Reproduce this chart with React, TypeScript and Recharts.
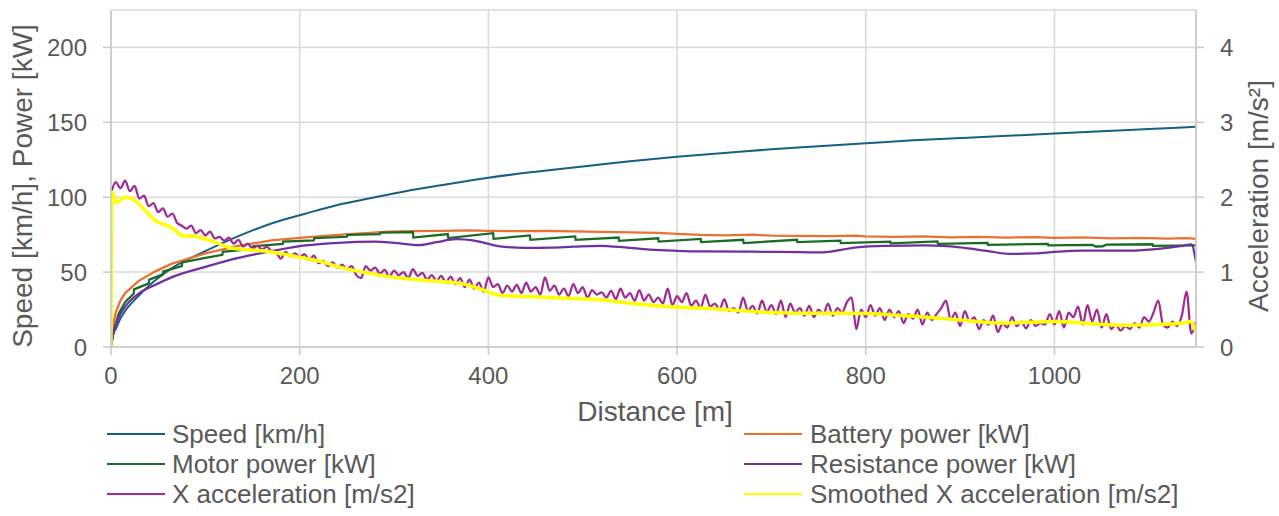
import { LineChart, Line, XAxis, YAxis, CartesianGrid } from 'recharts';

const FONT = '"Liberation Sans", Arial, sans-serif';
const TEXT = '#595959';
const GRID = '#D9D9D9';

// Speed [km/h] (left axis)
const speedDist = [0, 2, 5, 10, 15, 29, 46, 64, 100, 135, 170, 206, 241, 276, 312, 360, 400, 450, 500, 550, 600, 650, 700, 750, 800, 850, 900, 950, 1000, 1050, 1100, 1150];
const speedKmh = [0, 8, 12, 19, 24, 34, 44, 52.5, 64, 74, 82.5, 89, 95, 99.5, 104, 109, 113, 117, 120.5, 124, 127, 129.5, 132, 134, 136, 138, 139.5, 141, 142.5, 144, 145.5, 147];

// Battery power [kW]
const batteryDist = [0, 2, 5, 10, 15, 29, 47, 64, 100, 135, 170, 206, 241, 270, 294, 320, 350, 380, 400, 430, 460, 490, 520, 550, 580, 600, 625, 650, 680, 700, 730, 760, 790, 800, 830, 860, 890, 920, 950, 980, 1000, 1030, 1060, 1090, 1120, 1140, 1150];
const batteryKw = [0, 14, 23, 31, 36, 44, 50.5, 55.5, 62.5, 67.5, 71.2, 73.2, 74.8, 76, 77.1, 77.3, 77.6, 77.8, 77.5, 77.4, 77.6, 77.2, 76.8, 76.5, 76.2, 75.5, 74.8, 74.5, 75, 74.3, 74.2, 74, 74.4, 73.9, 73.5, 73.8, 73.2, 73.6, 73.1, 73.4, 72.9, 73.2, 72.6, 72.9, 72.4, 72.7, 72.2];

// Motor power [kW] - stepped
const motorDist = [0, 3, 8, 15, 24, 24.5, 40, 40.5, 55, 55.5, 75, 75.5, 100, 118, 118.5, 150, 150.5, 182, 182.5, 215, 215.5, 250, 250.5, 285, 285.5, 320, 320.5, 357, 357.5, 405, 405.5, 444, 444.5, 492, 492.5, 538, 538.5, 580, 580.5, 625, 625.5, 670, 670.5, 727, 727.5, 773, 773.5, 826, 826.5, 876, 876.5, 929, 929.5, 993, 993.5, 1040, 1044, 1051, 1055, 1104, 1104.5, 1150];
const motorKw = [0, 11, 22, 30, 35.5, 38.5, 42.5, 45, 48.5, 50.5, 54, 56.5, 59.5, 61.5, 63.5, 65.5, 67.3, 68.8, 70.4, 71.2, 72.7, 73.6, 74.8, 75.4, 76.3, 76.7, 73.1, 75.4, 72.7, 76, 72.2, 74.5, 71.6, 73.8, 71.6, 73.1, 70.9, 72.6, 70.4, 72.2, 70, 71.6, 69.4, 71.6, 70, 71, 69.4, 70.3, 69.2, 70.5, 68.8, 69.5, 68.2, 68.9, 67.9, 68.2, 67.1, 67.2, 68.3, 68.6, 67.6, 67.9];

// Resistance power [kW]
const resistDist = [0, 2, 5, 10, 15, 29, 47, 64, 100, 135, 170, 206, 241, 280, 300, 327, 345, 366, 385, 412, 440, 466, 490, 518, 545, 571, 600, 624, 680, 730, 755, 775, 790, 820, 864, 900, 930, 952, 980, 1000, 1030, 1080, 1110, 1135, 1145, 1150];
const resistKw = [0, 8, 15, 22, 27, 35.5, 41.5, 46.5, 53.5, 59.5, 64, 67.8, 69.6, 70.3, 69.5, 68, 70, 72, 71, 67.2, 66.2, 66.4, 67, 67.6, 66.5, 65, 64.2, 63.8, 63.6, 63.3, 63.2, 65, 66.5, 67.5, 67.8, 66.5, 64, 62.2, 62.5, 63.5, 64.3, 64.3, 65.5, 67.5, 68.5, 57];

// X acceleration [m/s2] (right axis), sampled every 5 m
const accelDist = [
  0, 5, 10, 15, 20, 25, 30, 35, 40, 45, 50, 55, 60, 65, 70, 75, 80, 85, 90, 95,
  100, 105, 110, 115, 120, 125, 130, 135, 140, 145, 150, 155, 160, 165, 170, 175, 180, 185, 190, 195,
  200, 205, 210, 215, 220, 225, 230, 235, 240, 245, 250, 255, 260, 265, 270, 275, 280, 285, 290, 295,
  300, 305, 310, 315, 320, 325, 330, 335, 340, 345, 350, 355, 360, 365, 370, 375, 380, 385, 390, 395,
  400, 405, 410, 415, 420, 425, 430, 435, 440, 445, 450, 455, 460, 465, 470, 475, 480, 485, 490, 495,
  500, 505, 510, 515, 520, 525, 530, 535, 540, 545, 550, 555, 560, 565, 570, 575, 580, 585, 590, 595,
  600, 605, 610, 615, 620, 625, 630, 635, 640, 645, 650, 655, 660, 665, 670, 675, 680, 685, 690, 695,
  700, 705, 710, 715, 720, 725, 730, 735, 740, 745, 750, 755, 760, 765, 770, 775, 780, 785, 790, 795,
  800, 805, 810, 815, 820, 825, 830, 835, 840, 845, 850, 855, 860, 865, 870, 875, 880, 885, 890, 895,
  900, 905, 910, 915, 920, 925, 930, 935, 940, 945, 950, 955, 960, 965, 970, 975, 980, 985, 990, 995,
  1000, 1005, 1010, 1015, 1020, 1025, 1030, 1035, 1040, 1045, 1050, 1055, 1060, 1065, 1070, 1075, 1080, 1085, 1090, 1095,
  1100, 1105, 1110, 1115, 1120, 1125, 1130, 1135, 1140, 1145, 1150,
];
const accelVals = [
  2.05, 2.2, 2.12, 2.22, 2.08, 2.15, 1.98, 2.02, 1.88, 1.92, 1.8, 1.85, 1.74, 1.78, 1.66, 1.62, 1.58, 1.62, 1.52, 1.56,
  1.49, 1.54, 1.45, 1.47, 1.42, 1.46, 1.38, 1.43, 1.34, 1.38, 1.31, 1.35, 1.3, 1.34, 1.28, 1.26, 1.18, 1.27, 1.21, 1.25,
  1.2, 1.24, 1.16, 1.22, 1.12, 1.15, 1.08, 1.13, 1.06, 1.1, 1.04, 1.08, 0.96, 0.92, 1.08, 1.02, 1.06, 0.98, 1.03, 0.94,
  1.02, 0.96, 1.0, 0.92, 1.04, 0.95, 0.99, 0.9, 0.96, 0.88, 0.95, 0.86, 0.94, 0.84, 0.92, 0.8, 0.9, 0.78, 0.86, 0.74,
  0.93, 0.8, 0.84, 0.72, 0.82, 0.74, 0.83, 0.72, 0.86, 0.74, 0.8, 0.7, 0.93, 0.75, 0.82, 0.7, 0.78, 0.68, 0.84, 0.72,
  0.8, 0.66, 0.76, 0.7, 0.73, 0.66, 0.75, 0.64, 0.78, 0.66, 0.72, 0.62, 0.76, 0.62, 0.7, 0.6, 0.66, 0.58, 0.78, 0.56,
  0.68, 0.6, 0.72, 0.55, 0.62, 0.52, 0.7, 0.54, 0.58, 0.5, 0.64, 0.48, 0.52, 0.46, 0.66, 0.48, 0.55, 0.45, 0.62, 0.47,
  0.56, 0.44, 0.62, 0.4, 0.58, 0.46, 0.52, 0.42, 0.55, 0.4, 0.5, 0.44, 0.58, 0.42, 0.52, 0.46, 0.6, 0.66, 0.24, 0.5,
  0.4, 0.56, 0.42, 0.52, 0.36, 0.5, 0.4, 0.48, 0.32, 0.44, 0.38, 0.5, 0.3, 0.46, 0.36, 0.44, 0.52, 0.62, 0.36, 0.46,
  0.28, 0.48, 0.34, 0.4, 0.24, 0.36, 0.3, 0.42, 0.2, 0.32, 0.26, 0.4, 0.28, 0.34, 0.25, 0.36, 0.28, 0.32, 0.3, 0.44,
  0.3, 0.48, 0.26, 0.46, 0.4, 0.54, 0.3, 0.56, 0.34, 0.5, 0.26, 0.44, 0.24, 0.3, 0.22, 0.28, 0.24, 0.32, 0.26, 0.4,
  0.34, 0.46, 0.62, 0.3, 0.26, 0.34, 0.28, 0.42, 0.74, 0.18, 0.34,
];

// Smoothed X acceleration [m/s2]
const smoothDist = [0, 1, 3, 6, 10, 15, 22, 29, 38, 47, 55, 64, 75, 93, 110, 128, 153, 170, 199, 223, 241, 276, 306, 342, 370, 395, 412, 448, 483, 518, 553, 589, 625, 660, 700, 730, 760, 790, 825, 861, 900, 946, 975, 1003, 1040, 1074, 1110, 1137, 1144, 1150];
const smoothVals = [0, 2.07, 2.02, 1.93, 1.96, 2.0, 1.98, 1.92, 1.8, 1.69, 1.64, 1.6, 1.49, 1.47, 1.4, 1.32, 1.29, 1.27, 1.2, 1.14, 1.07, 0.98, 0.92, 0.88, 0.85, 0.76, 0.69, 0.67, 0.65, 0.63, 0.58, 0.54, 0.52, 0.49, 0.46, 0.45, 0.45, 0.45, 0.43, 0.4, 0.36, 0.32, 0.33, 0.34, 0.31, 0.29, 0.3, 0.32, 0.34, 0.2];

const xTicks = [0, 200, 400, 600, 800, 1000];
const leftTicks = [0, 50, 100, 150, 200];
const rightTicks = [0, 1, 2, 3, 4];

const toPoints = (dist: number[], vals: number[]) => dist.map((d, i) => ({ d, v: vals[i] }));

const SERIES = [
  { name: 'Speed [km/h]', color: '#156082', width: 2, axis: 'l', type: 'monotone', data: toPoints(speedDist, speedKmh) },
  { name: 'Battery power [kW]', color: '#E97132', width: 2.25, axis: 'l', type: 'linear', data: toPoints(batteryDist, batteryKw) },
  { name: 'Motor power [kW]', color: '#196B24', width: 2.25, axis: 'l', type: 'linear', data: toPoints(motorDist, motorKw) },
  { name: 'Resistance power [kW]', color: '#7030A0', width: 2.25, axis: 'l', type: 'monotone', data: toPoints(resistDist, resistKw) },
  { name: 'X acceleration [m/s2]', color: '#A02B93', width: 2.25, axis: 'r', type: 'monotone', data: toPoints(accelDist, accelVals) },
  { name: 'Smoothed X acceleration [m/s2]', color: '#FFFF00', width: 3.5, axis: 'r', type: 'monotone', data: toPoints(smoothDist, smoothVals) },
];

// legend is laid out in two columns, row-major like Excel
const LEGEND_COLS = [
  { lineX: 107, textX: 172 },
  { lineX: 744, textX: 810 },
];
const LEGEND_ROW_Y = [434, 464, 494];

const tickStyle = { fill: TEXT, fontSize: 24, fontFamily: FONT };
const axisStroke = { stroke: '#C8C8C8', strokeWidth: 1.5 };

function Title({ x, y, angle, text }: { x: number; y: number; angle: number; text: string }) {
  return (
    <text
      x={x}
      y={y}
      transform={angle ? `rotate(${angle} ${x} ${y})` : undefined}
      textAnchor="middle"
      dominantBaseline="central"
      fill={TEXT}
      fontSize={28}
      fontFamily={FONT}
    >
      {text}
    </text>
  );
}

export default function App() {
  return (
    <div style={{ position: 'absolute', left: 0, top: 0, width: 1279, height: 516, background: '#fff' }}>
      <LineChart width={1279} height={516} margin={{ top: 10, right: 0, bottom: 109, left: 0 }}>
        <CartesianGrid
          xAxisId="x"
          yAxisId="l"
          stroke={GRID}
          strokeWidth={1.5}
          horizontalValues={[0, 50, 100, 150, 200, 225]}
          verticalValues={[0, 200, 400, 600, 800, 1000, 1150]}
        />
        <XAxis
          xAxisId="x"
          dataKey="d"
          type="number"
          domain={[0, 1150]}
          ticks={xTicks}
          allowDataOverflow
          height={60}
          tick={tickStyle}
          tickSize={8}
          tickMargin={12}
          axisLine={axisStroke}
          tickLine={axisStroke}
          label={{ content: () => <Title x={655} y={411} angle={0} text="Distance [m]" /> }}
        />
        <YAxis
          yAxisId="l"
          orientation="left"
          type="number"
          domain={[0, 225]}
          ticks={leftTicks}
          allowDataOverflow
          width={111}
          tick={tickStyle}
          tickSize={8}
          tickMargin={16}
          axisLine={axisStroke}
          tickLine={axisStroke}
          label={{ content: () => <Title x={22} y={186} angle={-90} text="Speed [km/h], Power [kW]" /> }}
        />
        <YAxis
          yAxisId="r"
          orientation="right"
          type="number"
          domain={[0, 4.5]}
          ticks={rightTicks}
          allowDataOverflow
          width={83}
          tick={tickStyle}
          tickSize={8}
          tickMargin={16}
          axisLine={axisStroke}
          tickLine={axisStroke}
          label={{ content: () => <Title x={1258} y={196} angle={-90} text="Acceleration [m/s²]" /> }}
        />
        {SERIES.map((s) => (
          <Line
            key={s.name}
            xAxisId="x"
            yAxisId={s.axis}
            data={s.data}
            dataKey="v"
            name={s.name}
            type={s.type as 'monotone' | 'linear'}
            stroke={s.color}
            strokeWidth={s.width}
            dot={false}
            activeDot={false}
            isAnimationActive={false}
          />
        ))}
      </LineChart>
      {SERIES.map((s, i) => {
        const col = LEGEND_COLS[i % 2];
        const y = LEGEND_ROW_Y[Math.floor(i / 2)];
        return (
          <div key={s.name} style={{ position: 'absolute', left: col.lineX, top: y - 14, height: 28, display: 'flex', alignItems: 'center' }}>
            <div style={{ width: 58, height: 0, borderTop: `2.5px solid ${s.color}` }} />
            <span
              style={{
                marginLeft: col.textX - col.lineX - 58,
                fontFamily: FONT,
                fontSize: 26,
                lineHeight: '28px',
                height: 28,
                color: TEXT,
                whiteSpace: 'nowrap',
              }}
            >
              {s.name}
            </span>
          </div>
        );
      })}
    </div>
  );
}
